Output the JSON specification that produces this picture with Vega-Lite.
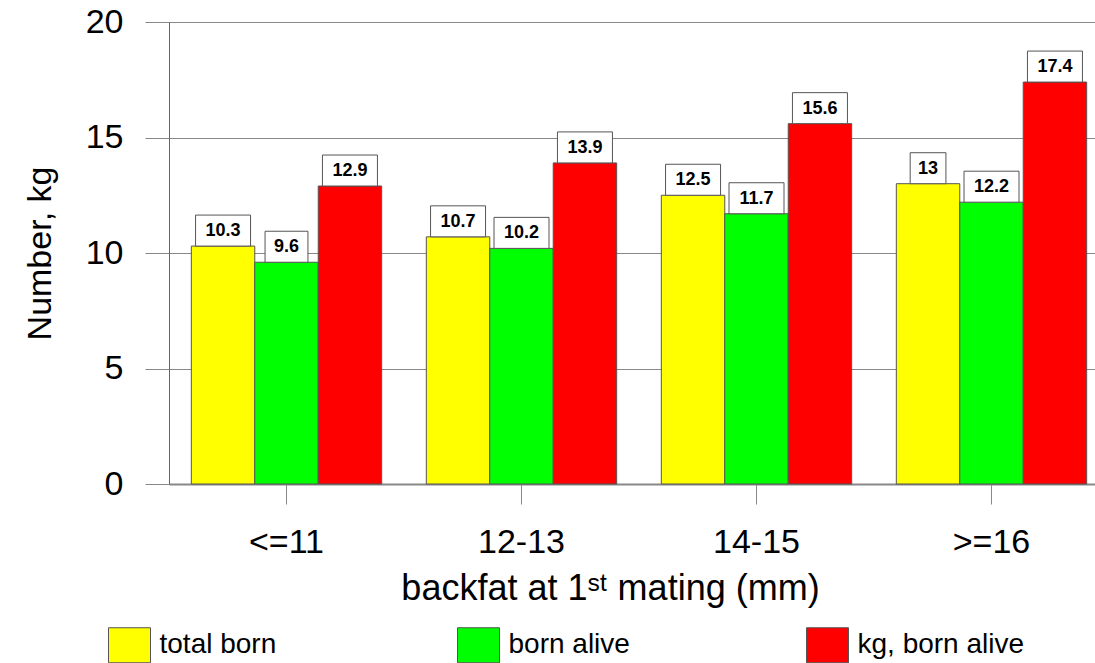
{
  "$schema": "https://vega.github.io/schema/vega-lite/v6.json",
  "autosize": "none",
  "padding": {"left": 169, "top": 22, "right": 0, "bottom": 179},
  "width": 926,
  "height": 462,
  "background": "white",
  "config": {
    "view": {"stroke": null},
    "font": "Liberation Sans",
    "axis": {"labelFont": "Liberation Sans", "titleFont": "Liberation Sans", "labelColor": "black", "titleColor": "black", "titleFontWeight": "normal"}
  },
  "data": {
    "values": [
      {"cat": "<=11", "series": "total born", "value": 10.3},
      {"cat": "<=11", "series": "born alive", "value": 9.6},
      {"cat": "<=11", "series": "kg, born alive", "value": 12.9},
      {"cat": "12-13", "series": "total born", "value": 10.7},
      {"cat": "12-13", "series": "born alive", "value": 10.2},
      {"cat": "12-13", "series": "kg, born alive", "value": 13.9},
      {"cat": "14-15", "series": "total born", "value": 12.5},
      {"cat": "14-15", "series": "born alive", "value": 11.7},
      {"cat": "14-15", "series": "kg, born alive", "value": 15.6},
      {"cat": ">=16", "series": "total born", "value": 13},
      {"cat": ">=16", "series": "born alive", "value": 12.2},
      {"cat": ">=16", "series": "kg, born alive", "value": 17.4}
    ]
  },
  "transform": [{"calculate": "length(toString(datum.value))", "as": "len"}],
  "encoding": {
    "x": {
      "field": "cat", "type": "nominal",
      "sort": ["<=11", "12-13", "14-15", ">=16"],
      "scale": {"range": [0, 940], "paddingInner": 0.19, "paddingOuter": 0.095},
      "axis": {
        "title": "backfat at 1ˢᵗ mating (mm)",
        "titleFontSize": 36, "titlePadding": 12,
        "titleX": 441, "titleAlign": "center",
        "labelFontSize": 34, "labelAngle": 0, "labelPadding": 21,
        "tickSize": 20, "tickColor": "#888", "domainColor": "#888", "domainWidth": 2,
        "grid": false
      }
    },
    "xOffset": {
      "field": "series", "type": "nominal",
      "sort": ["total born", "born alive", "kg, born alive"],
      "scale": {"paddingInner": 0, "paddingOuter": 0}
    },
    "y": {
      "field": "value", "type": "quantitative",
      "scale": {"domain": [0, 20], "nice": false},
      "axis": {
        "title": "Number, kg", "titleFontSize": 34, "titlePadding": 28,
        "values": [0, 5, 10, 15, 20],
        "labelFontSize": 34, "labelPadding": 22,
        "tickSize": 24, "tickColor": "#888",
        "domainColor": "#666",
        "grid": true, "gridColor": "#888", "gridWidth": 1
      }
    }
  },
  "layer": [
    {
      "mark": {"type": "bar", "stroke": "#555", "strokeWidth": 1},
      "encoding": {
        "color": {
          "field": "series", "type": "nominal",
          "sort": ["total born", "born alive", "kg, born alive"],
          "scale": {"domain": ["total born", "born alive", "kg, born alive"], "range": ["#FFFF00", "#00FF00", "#FF0000"]},
          "legend": {
            "title": null,
            "orient": "none",
            "legendX": -57.5,
            "legendY": 605,
            "direction": "horizontal",
            "columns": 3,
            "gridAlign": "all",
            "columnPadding": 129,
            "labelFontSize": 28,
            "labelFont": "Liberation Sans",
            "labelColor": "black",
            "labelOffset": 12,
            "labelLimit": 400,
            "symbolType": "M-1.2,-1H1.2V1H-1.2Z",
            "symbolSize": 1225,
            "symbolStrokeColor": "#555",
            "symbolStrokeWidth": 1,
            "symbolOpacity": 1
          }
        }
      }
    },
    {
      "mark": {"type": "point", "filled": true, "fill": "white", "stroke": "#555", "strokeWidth": 1, "opacity": 1, "size": 3025},
      "encoding": {
        "shape": {
          "field": "len", "type": "nominal", "legend": null,
          "scale": {"domain": [2, 3, 4], "range": ["M-0.65,-1.127H0.65V0H-0.65Z", "M-0.78,-1.127H0.78V0H-0.78Z", "M-1,-1.127H1V0H-1Z"]}
        }
      }
    },
    {
      "mark": {"type": "text", "font": "Liberation Sans", "fontWeight": "bold", "fontSize": 18, "dy": -15, "baseline": "middle", "color": "black"},
      "encoding": {"text": {"field": "value", "type": "quantitative"}}
    }
  ]
}
